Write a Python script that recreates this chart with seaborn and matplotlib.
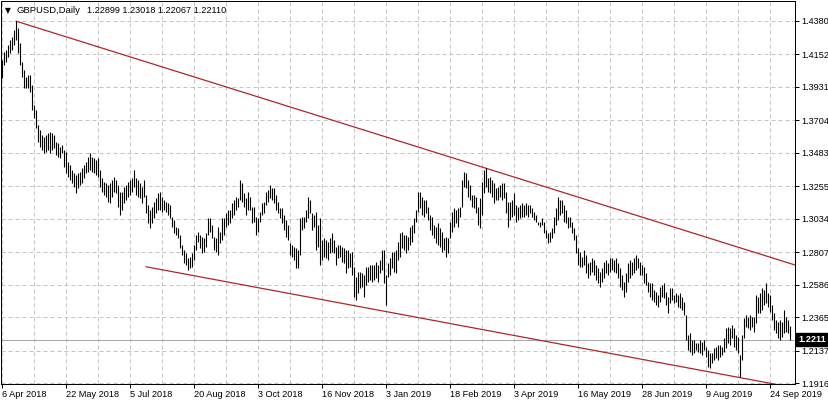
import matplotlib
matplotlib.use("Agg")
import matplotlib.pyplot as plt
import seaborn as sns
import numpy as np
import pandas as pd

# ---------------- data ----------------
symbol = "GBPUSD,Daily"
header_ohlc = ["1.22899", "1.23018", "1.22067", "1.22110"]
last_price = 1.2211

highs = [
    1.4113, 1.4167, 1.4181, 1.4215, 1.4249, 1.4269, 1.4317, 1.4377, 1.4331, 1.4229,
    1.4099, 1.4045, 1.3997, 1.4011, 1.4011, 1.3943, 1.3807, 1.3773, 1.3671, 1.3637,
    1.3603, 1.3589, 1.3603, 1.3617, 1.3623, 1.3617, 1.3603, 1.3555, 1.3549, 1.3521,
    1.3535, 1.3501, 1.3487, 1.3419, 1.3399, 1.3365, 1.3345, 1.3331, 1.3345, 1.3351,
    1.3379, 1.3399, 1.3419, 1.3453, 1.3481, 1.3453, 1.3447, 1.3433, 1.3447, 1.3365,
    1.3311, 1.3283, 1.3277, 1.3263, 1.3277, 1.3297, 1.3317, 1.3297, 1.3263, 1.3215,
    1.3215, 1.3249, 1.3263, 1.3283, 1.3297, 1.3311, 1.3365, 1.3311, 1.3297, 1.3277,
    1.3249, 1.3297, 1.3195, 1.3127, 1.3093, 1.3113, 1.3147, 1.3175, 1.3209, 1.3215,
    1.3181, 1.3161, 1.3147, 1.3141, 1.3127, 1.3045, 1.3025, 1.2977, 1.2971, 1.2923,
    1.2855, 1.2821, 1.2801, 1.2767, 1.2773, 1.2801, 1.2855, 1.2923, 1.2943, 1.2923,
    1.2909, 1.2903, 1.2937, 1.3039, 1.3039, 1.2991, 1.2909, 1.2903, 1.2977, 1.2943,
    1.3039, 1.3039, 1.3073, 1.3093, 1.3093, 1.3141, 1.3161, 1.3181, 1.3175, 1.3297,
    1.3277, 1.3209, 1.3175, 1.3215, 1.3181, 1.3113, 1.3113, 1.3045, 1.3039, 1.3079,
    1.3141, 1.3147, 1.3215, 1.3229, 1.3263, 1.3243, 1.3243, 1.3195, 1.3147, 1.3107,
    1.3107, 1.3059, 1.3025, 1.2991, 1.2869, 1.2855, 1.2841, 1.2835, 1.2821, 1.3039,
    1.3045, 1.3045, 1.3093, 1.3181, 1.3161, 1.3073, 1.3059, 1.3079, 1.2991, 1.3039,
    1.2889, 1.2903, 1.2889, 1.2875, 1.2903, 1.2937, 1.2889, 1.2841, 1.2855, 1.2855,
    1.2841, 1.2835, 1.2821, 1.2821, 1.2801, 1.2807, 1.2705, 1.2637, 1.2671, 1.2671,
    1.2665, 1.2651, 1.2705, 1.2705, 1.2719, 1.2719, 1.2719, 1.2739, 1.2719, 1.2753,
    1.2821, 1.2821, 1.2651, 1.2733, 1.2767, 1.2807, 1.2807, 1.2821, 1.2875, 1.2937,
    1.2943, 1.2923, 1.2923, 1.2909, 1.2977, 1.2991, 1.3039, 1.3093, 1.3215, 1.3215,
    1.3181, 1.3161, 1.3161, 1.3113, 1.3059, 1.3045, 1.2991, 1.2977, 1.3005, 1.2971,
    1.2943, 1.2903, 1.2909, 1.2903, 1.3011, 1.3079, 1.3107, 1.3093, 1.3107, 1.3113,
    1.3297, 1.3351, 1.3345, 1.3297, 1.3263, 1.3195, 1.3195, 1.3181, 1.3113, 1.3175,
    1.3283, 1.3365, 1.3377, 1.3311, 1.3317, 1.3297, 1.3277, 1.3243, 1.3249, 1.3263,
    1.3277, 1.3277, 1.3215, 1.3147, 1.3147, 1.3161, 1.3209, 1.3127, 1.3113, 1.3127,
    1.3141, 1.3127, 1.3141, 1.3127, 1.3127, 1.3107, 1.3079, 1.3059, 1.3011, 1.3011,
    1.3039, 1.3011, 1.2957, 1.2937, 1.2943, 1.2971, 1.3045, 1.3107, 1.3181, 1.3161,
    1.3161, 1.3127, 1.3093, 1.3045, 1.3045, 1.3011, 1.2971, 1.2923, 1.2835, 1.2807,
    1.2773, 1.2821, 1.2787, 1.2733, 1.2739, 1.2767, 1.2753, 1.2719, 1.2699, 1.2671,
    1.2699, 1.2739, 1.2753, 1.2733, 1.2767, 1.2767, 1.2753, 1.2767, 1.2733, 1.2699,
    1.2651, 1.2603, 1.2665, 1.2733, 1.2753, 1.2739, 1.2767, 1.2787, 1.2767, 1.2739,
    1.2719, 1.2705, 1.2665, 1.2603, 1.2597, 1.2597, 1.2549, 1.2535, 1.2515, 1.2569,
    1.2583, 1.2597, 1.2535, 1.2501, 1.2563, 1.2563, 1.2515, 1.2529, 1.2515, 1.2529,
    1.2501, 1.2467, 1.2379, 1.2243, 1.2257, 1.2209, 1.2209, 1.2189, 1.2189, 1.2209,
    1.2195, 1.2209, 1.2161, 1.2141, 1.2121, 1.2121, 1.2155, 1.2161, 1.2175, 1.2175,
    1.2161, 1.2223, 1.2291, 1.2297, 1.2291, 1.2311, 1.2291, 1.2243, 1.2229, 1.2107,
    1.2243, 1.2359, 1.2379, 1.2365, 1.2379, 1.2365, 1.2365, 1.2515, 1.2501, 1.2529,
    1.2563, 1.2549, 1.2597, 1.2529, 1.2515, 1.2447, 1.2393, 1.2345, 1.2331, 1.2345,
    1.2331, 1.2413, 1.2365, 1.2345, 1.2302,
]

lows = [
    1.3991, 1.4079, 1.4099, 1.4133, 1.4161, 1.4181, 1.4215, 1.4249, 1.4161, 1.4079,
    1.3997, 1.3923, 1.3923, 1.3923, 1.3895, 1.3773, 1.3719, 1.3651, 1.3555, 1.3521,
    1.3501, 1.3481, 1.3487, 1.3501, 1.3481, 1.3501, 1.3515, 1.3467, 1.3453, 1.3447,
    1.3481, 1.3385, 1.3345, 1.3317, 1.3297, 1.3277, 1.3249, 1.3209, 1.3243, 1.3263,
    1.3277, 1.3311, 1.3345, 1.3351, 1.3365, 1.3351, 1.3345, 1.3331, 1.3317, 1.3249,
    1.3215, 1.3195, 1.3181, 1.3147, 1.3141, 1.3181, 1.3215, 1.3209, 1.3113, 1.3059,
    1.3093, 1.3141, 1.3161, 1.3181, 1.3195, 1.3215, 1.3249, 1.3195, 1.3181, 1.3175,
    1.3141, 1.3181, 1.3073, 1.3005, 1.2971, 1.3005, 1.3039, 1.3073, 1.3093, 1.3093,
    1.3079, 1.3093, 1.3079, 1.3059, 1.3039, 1.2977, 1.2937, 1.2923, 1.2903, 1.2835,
    1.2787, 1.2733, 1.2719, 1.2685, 1.2699, 1.2705, 1.2753, 1.2821, 1.2875, 1.2835,
    1.2801, 1.2807, 1.2841, 1.2923, 1.2943, 1.2903, 1.2821, 1.2807, 1.2787, 1.2869,
    1.2889, 1.2923, 1.2977, 1.2991, 1.3005, 1.3039, 1.3059, 1.3093, 1.3113, 1.3161,
    1.3147, 1.3113, 1.3059, 1.3093, 1.3093, 1.3005, 1.3011, 1.2923, 1.2943, 1.3011,
    1.3059, 1.3073, 1.3127, 1.3147, 1.3175, 1.3161, 1.3141, 1.3093, 1.3073, 1.3039,
    1.3005, 1.2957, 1.2909, 1.2889, 1.2787, 1.2773, 1.2753, 1.2699, 1.2699, 1.2787,
    1.2957, 1.2971, 1.3011, 1.3039, 1.3073, 1.2957, 1.2977, 1.2821, 1.2841, 1.2719,
    1.2753, 1.2773, 1.2767, 1.2753, 1.2801, 1.2807, 1.2801, 1.2719, 1.2767, 1.2773,
    1.2739, 1.2733, 1.2665, 1.2699, 1.2705, 1.2651, 1.2501, 1.2481, 1.2529, 1.2563,
    1.2569, 1.2501, 1.2583, 1.2603, 1.2617, 1.2603, 1.2617, 1.2631, 1.2603, 1.2665,
    1.2685, 1.2597, 1.2447, 1.2637, 1.2651, 1.2699, 1.2671, 1.2665, 1.2753, 1.2773,
    1.2835, 1.2821, 1.2801, 1.2821, 1.2855, 1.2875, 1.2937, 1.3011, 1.3079, 1.3107,
    1.3059, 1.3045, 1.3073, 1.3025, 1.2957, 1.2923, 1.2903, 1.2869, 1.2855, 1.2841,
    1.2807, 1.2821, 1.2773, 1.2801, 1.2903, 1.2943, 1.2977, 1.3005, 1.2977, 1.3045,
    1.3113, 1.3249, 1.3243, 1.3181, 1.3161, 1.3113, 1.3107, 1.3073, 1.2991, 1.2971,
    1.3059, 1.3209, 1.3249, 1.3215, 1.3209, 1.3181, 1.3141, 1.3161, 1.3161, 1.3181,
    1.3161, 1.3175, 1.3073, 1.2977, 1.3025, 1.3045, 1.3059, 1.3011, 1.3025, 1.3039,
    1.3045, 1.3045, 1.3059, 1.3045, 1.3073, 1.3045, 1.3025, 1.3011, 1.2991, 1.2977,
    1.2991, 1.2937, 1.2903, 1.2869, 1.2875, 1.2903, 1.2937, 1.2991, 1.3025, 1.3059,
    1.3073, 1.3011, 1.3005, 1.2971, 1.2977, 1.2937, 1.2889, 1.2801, 1.2719, 1.2705,
    1.2705, 1.2719, 1.2665, 1.2631, 1.2651, 1.2671, 1.2651, 1.2617, 1.2597, 1.2569,
    1.2603, 1.2631, 1.2665, 1.2651, 1.2671, 1.2685, 1.2671, 1.2665, 1.2631, 1.2569,
    1.2549, 1.2501, 1.2535, 1.2603, 1.2631, 1.2651, 1.2665, 1.2685, 1.2699, 1.2651,
    1.2651, 1.2597, 1.2583, 1.2535, 1.2501, 1.2481, 1.2467, 1.2447, 1.2433, 1.2467,
    1.2501, 1.2495, 1.2447, 1.2393, 1.2461, 1.2481, 1.2461, 1.2467, 1.2433, 1.2427,
    1.2413, 1.2379, 1.2209, 1.2141, 1.2127, 1.2107, 1.2121, 1.2141, 1.2127, 1.2121,
    1.2107, 1.2141, 1.2093, 1.2025, 1.2019, 1.2053, 1.2073, 1.2087, 1.2073, 1.2093,
    1.2107, 1.2127, 1.2155, 1.2189, 1.2175, 1.2223, 1.2161, 1.2141, 1.2121, 1.1957,
    1.2073, 1.2223, 1.2297, 1.2291, 1.2277, 1.2297, 1.2263, 1.2325, 1.2393, 1.2393,
    1.2413, 1.2447, 1.2461, 1.2433, 1.2399, 1.2345, 1.2277, 1.2257, 1.2223, 1.2209,
    1.2229, 1.2257, 1.2263, 1.2257, 1.2207,
]

# date labels every 32 bars
date_labels = ["6 Apr 2018", "22 May 2018", "5 Jul 2018", "20 Aug 2018", "3 Oct 2018",
               "16 Nov 2018", "3 Jan 2019", "18 Feb 2019", "3 Apr 2019", "16 May 2019",
               "28 Jun 2019", "9 Aug 2019", "24 Sep 2019"]
date_bar_index = [0, 32, 64, 96, 128, 160, 192, 224, 256, 288, 320, 352, 384]

price_ticks = [1.4380, 1.4152, 1.3931, 1.3704, 1.3483, 1.3255, 1.3034,
               1.2807, 1.2586, 1.2365, 1.2137, 1.1916]

# channel trend lines (bar index, price)
upper_x = [7, 396.5]
upper_y = [1.4377, 1.2719]
lower_x = [72, 391.5]
lower_y = [1.2707, 1.1896]

# ---------------- plotting ----------------
sns.set_theme(style="white")
plt.rcParams["font.family"] = ["Liberation Sans", "DejaVu Sans"]

W, H = 829, 403
fig = plt.figure(figsize=(W / 100, H / 100), dpi=100)
ax = fig.add_axes([1 / W, 1 - 384 / H, 794 / W, 383 / H])
ax.set_facecolor("white")

n = len(highs)
idx = np.arange(n)
df = pd.DataFrame({"bar": idx, "high": highs, "low": lows})

px = 0.72  # one pixel in points

# grid
grid_kw = dict(color="#c4c4c4", lw=px, linestyle=(0, (4, 3)), zorder=0)
for p in price_ticks:
    ax.axhline(p, **grid_kw)
for g in range(0, 397, 16):
    ax.axvline(g, **grid_kw)

# current price line
ax.axhline(last_price, color="#a8a8a8", lw=px, zorder=1)

# trend lines
sns.lineplot(x=upper_x, y=upper_y, ax=ax, color="#b0252b", lw=0.9, zorder=2)
sns.lineplot(x=lower_x, y=lower_y, ax=ax, color="#b0252b", lw=0.9, zorder=2)

# price bars
ax.vlines(df["bar"], df["low"], df["high"], color="black", lw=0.8, zorder=3)

ax.set_xlim(-0.5, 396.5)
ax.set_ylim(1.19098, 1.4514)

for s in ax.spines.values():
    s.set_color("black")
    s.set_linewidth(px)

# y axis on right
ax.yaxis.tick_right()
ax.set_yticks(price_ticks)
ax.set_yticklabels([f"{p:.4f}" for p in price_ticks])
ax.tick_params(axis="y", which="both", direction="out", length=3.0, width=px,
               color="black", pad=1.5, labelsize=6.6, labelcolor="black", right=True, left=False)

# x axis
ax.set_xticks(date_bar_index)
ax.set_xticklabels(date_labels, ha="left")
ax.tick_params(axis="x", direction="out", length=3.0, width=px, color="black",
               pad=1.5, labelsize=6.6, labelcolor="black", bottom=True)
for lbl in ax.get_xticklabels():
    lbl.set_horizontalalignment("left")
ax.set_xlabel("")
ax.set_ylabel("")

# current price tag
ax.text(1.0 + 3 / 794, last_price, f"{last_price:.4f}", transform=ax.get_yaxis_transform(),
        ha="left", va="center", fontsize=6.6, color="white", fontweight="bold",
        bbox=dict(boxstyle="square,pad=0.22", fc="black", ec="black"), clip_on=False, zorder=5)

# header
fig.text(5 / W, 1 - 10.5 / H, "\u25BC", fontsize=5.5, color="black", va="center", ha="left",
         family=["DejaVu Sans"])
fig.text(17 / W, 1 - 10.5 / H, symbol, fontsize=6.8, color="black", va="center", ha="left")
fig.text(87 / W, 1 - 10.5 / H, " ".join(header_ohlc), fontsize=6.6, color="black",
         va="center", ha="left")

fig.savefig("out.png", dpi=100, facecolor="white")
